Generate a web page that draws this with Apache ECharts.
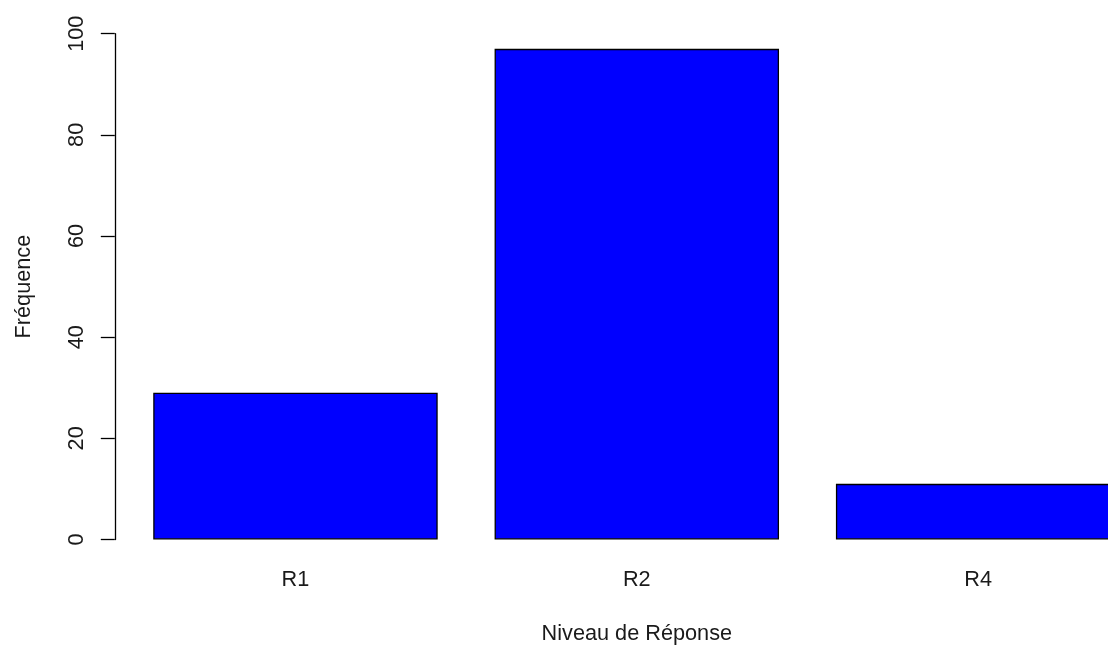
<!DOCTYPE html>
<html>
<head>
<meta charset="utf-8">
<script src="https://cdn.jsdelivr.net/npm/echarts@6/dist/echarts.min.js"></script>
<style>
html,body{margin:0;padding:0;background:#fff;overflow:hidden;}
#chart{width:1108px;height:646px;}
</style>
</head>
<body>
<div id="chart"></div>
<script>
const categories = ["R1", "R2", "R4"];
const frequencies = [29, 97, 11];
const yTicks = [0, 20, 40, 60, 80, 100];

const FONT = '"Liberation Sans", Arial, sans-serif';
const FS = 21.7;
const chart = echarts.init(document.getElementById('chart'), null, {renderer: 'canvas'});
chart.setOption({
  animation: false,
  backgroundColor: '#ffffff',
  grid: {left: 124.8, width: 1024, top: 33.7, height: 505.8, containLabel: false, outerBoundsMode: 'none'},
  xAxis: {
    type: 'category',
    data: categories,
    boundaryGap: true,
    axisLine: {show: false},
    axisTick: {show: false},
    axisLabel: {fontFamily: FONT, fontSize: FS, color: '#1a1a1a', margin: 30},
    name: 'Niveau de Réponse',
    nameLocation: 'middle',
    nameGap: 84,
    nameTextStyle: {fontFamily: FONT, fontSize: FS, color: '#1a1a1a'}
  },
  yAxis: {
    type: 'value',
    min: yTicks[0],
    max: yTicks[yTicks.length - 1],
    interval: 20,
    offset: 10,
    splitLine: {show: false},
    axisLine: {show: true, lineStyle: {color: '#000', width: 1.3}},
    axisTick: {show: true, length: 14, lineStyle: {color: '#000', width: 1.3}},
    axisLabel: {fontFamily: FONT, fontSize: FS, color: '#1a1a1a', rotate: 90, margin: 27},
    name: 'Fréquence',
    nameLocation: 'middle',
    nameRotate: 90,
    nameGap: 80,
    nameTextStyle: {fontFamily: FONT, fontSize: FS, color: '#1a1a1a'}
  },
  series: [{
    type: 'bar',
    data: frequencies,
    barWidth: '83.333%',
    itemStyle: {color: '#0000ff', borderColor: '#000', borderWidth: 1.3},
    silent: true
  }]
});
</script>
</body>
</html>
